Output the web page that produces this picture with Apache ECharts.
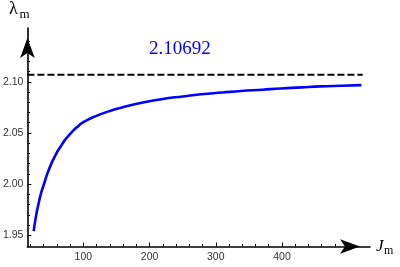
<!DOCTYPE html>
<html>
<head>
<meta charset="utf-8">
<script src="https://cdn.jsdelivr.net/npm/echarts@6/dist/echarts.min.js"></script>
<style>html,body{margin:0;padding:0;background:#fff}#c{width:400px;height:267px}</style>
</head>
<body>
<div id="c"></div>
<script>
// Data
const J = [25, 28, 32, 36, 40, 46, 53, 60, 65, 72, 80, 90, 100, 115, 140, 165, 190, 218, 250, 278, 310, 338, 370, 398, 430, 458, 490, 520];
const lambda = [1.954, 1.967, 1.980, 1.991, 1.999, 2.011, 2.022, 2.031, 2.036, 2.043, 2.049, 2.0555, 2.0605, 2.0655, 2.0715, 2.076, 2.0797, 2.083, 2.0857, 2.0878, 2.0895, 2.091, 2.0923, 2.0935, 2.0946, 2.0955, 2.0962, 2.0968];
const asymptote = 2.10692;
const asymptoteLabel = '2.10692';
const xMajorTicks = [100, 200, 300, 400];
const xMinorTicks = [20, 40, 60, 80, 120, 140, 160, 180, 220, 240, 260, 280, 320, 340, 360, 380, 420, 440, 460, 480];
const yMajorTicks = [1.95, 2.00, 2.05, 2.10];
const yMinorTicks = [1.96, 1.97, 1.98, 1.99, 2.01, 2.02, 2.03, 2.04, 2.06, 2.07, 2.08, 2.09, 2.11, 2.12, 2.13, 2.14];
const xRange = [15.5, 533];
const yRange = [1.939, 2.1526];
const asymStartEnd = [15.5, 522];

const chart = echarts.init(document.getElementById('c'), null, {renderer: 'canvas'});
const sans = 'Liberation Sans, Arial, sans-serif';
const serif = 'Liberation Serif, Times New Roman, serif';
const grid = {left: 25, right: 30, top: 28, bottom: 20.5};

function xAxisDef(ticks, len, showLabel, showLine) {
  return {
    type: 'value', min: xRange[0], max: xRange[1], gridIndex: 0, position: 'bottom', offset: 0,
    splitLine: {show: false},
    axisLine: {show: showLine, onZero: false, lineStyle: {color: '#000', width: 1.6},
      symbol: ['none', 'arrow'], symbolSize: [11, 20], symbolOffset: [0, -10]},
    axisTick: {show: true, inside: true, length: len, customValues: ticks, lineStyle: {color: '#000', width: 1}},
    axisLabel: {show: showLabel, customValues: ticks, margin: 5, color: '#333', fontSize: 10.5, fontFamily: sans,
      formatter: v => String(Math.round(v))}
  };
}
function yAxisDef(ticks, len, showLabel, showLine) {
  return {
    type: 'value', min: yRange[0], max: yRange[1], gridIndex: 0, position: 'left', offset: 0,
    splitLine: {show: false},
    axisLine: {show: showLine, onZero: false, lineStyle: {color: '#000', width: 1.6},
      symbol: ['none', 'arrow'], symbolSize: [11, 20], symbolOffset: [0, -10]},
    axisTick: {show: true, inside: true, length: len, customValues: ticks, lineStyle: {color: '#000', width: 1}},
    axisLabel: {show: showLabel, customValues: ticks, margin: 4, color: '#333', fontSize: 10.5, fontFamily: sans,
      formatter: v => v.toFixed(2)}
  };
}

chart.setOption({
  animation: false,
  grid: grid,
  xAxis: [xAxisDef(xMajorTicks, 4, true, true), xAxisDef(xMinorTicks, 2.5, false, false)],
  yAxis: [yAxisDef(yMajorTicks, 4, true, true), yAxisDef(yMinorTicks, 2.5, false, false)],
  series: [
    {
      type: 'line', xAxisIndex: 0, yAxisIndex: 0,
      data: asymStartEnd.map(x => [x, asymptote]),
      symbol: 'none', clip: false,
      lineStyle: {color: '#000', width: 2, type: [7, 3]}
    },
    {
      type: 'line', xAxisIndex: 0, yAxisIndex: 0,
      data: J.map((x, i) => [x, lambda[i]]),
      smooth: 0.5, symbol: 'none', clip: false,
      lineStyle: {color: '#0000ff', width: 2.6}
    }
  ],
  graphic: [
    {type: 'text', left: 149, top: 40, style: {text: asymptoteLabel, fill: '#0000ff', font: '19px ' + serif}},
    {type: 'text', left: 9, top: 0, style: {text: 'λ', fill: '#000', font: '18px ' + serif}},
    {type: 'text', left: 19.5, top: 8, style: {text: 'm', fill: '#000', font: '13px ' + serif}},
    {type: 'text', left: 376, top: 238, style: {text: 'J', fill: '#000', font: 'italic 17px ' + serif}},
    {type: 'text', left: 384, top: 245, style: {text: 'm', fill: '#000', font: '12px ' + serif}}
  ]
});
</script>
</body>
</html>
